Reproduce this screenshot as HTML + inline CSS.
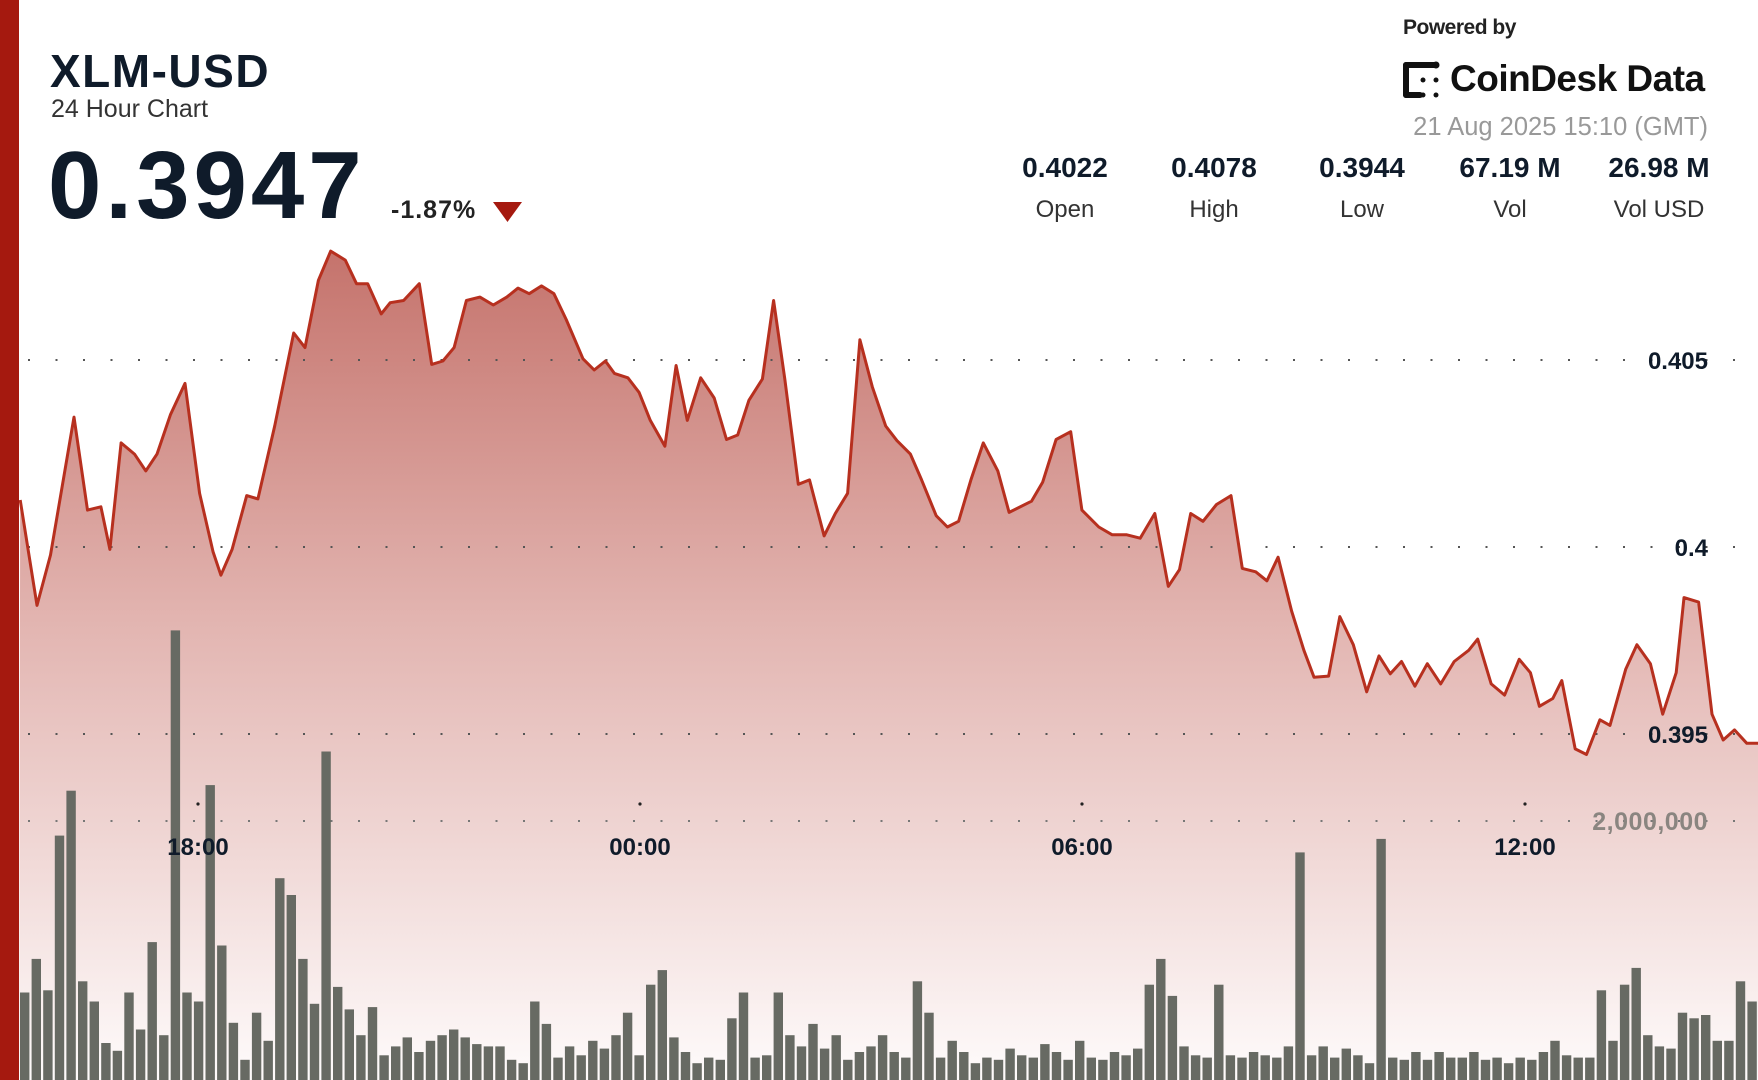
<!DOCTYPE html>
<html><head><meta charset="utf-8"><style>
html,body{margin:0;padding:0;background:#fff;}
body{width:1758px;height:1080px;position:relative;overflow:hidden;font-family:"Liberation Sans",sans-serif;color:#0f1b2a;}
.abs{position:absolute;white-space:nowrap;}
</style></head><body>
<svg class="abs" style="left:0;top:0" width="1758" height="1080" id="chart">
<defs>
<linearGradient id="g" x1="0" y1="240" x2="0" y2="1080" gradientUnits="userSpaceOnUse">
<stop offset="0" stop-color="#c4716a"/>
<stop offset="0.45" stop-color="#e2b4b0"/>
<stop offset="1" stop-color="#fefbfb"/>
</linearGradient>
</defs>
<path id="area" fill="url(#g)"/>
<g id="grid" stroke="#555" stroke-width="2" stroke-dasharray="2 25.5">
<line x1="28" y1="360" x2="1758" y2="360"/>
<line x1="28" y1="547" x2="1758" y2="547"/>
<line x1="28" y1="734" x2="1758" y2="734"/>
<line x1="28" y1="821" x2="1758" y2="821" stroke="#777"/>
</g>
<g id="bars" fill="#676a63"></g>
<path id="line" fill="none" stroke="#b7301f" stroke-width="3" stroke-linejoin="round"/>
<g fill="#222"><circle cx="198" cy="804" r="1.6"/><circle cx="640" cy="804" r="1.6"/><circle cx="1082" cy="804" r="1.6"/><circle cx="1525" cy="804" r="1.6"/></g>
<g font-family="Liberation Sans, sans-serif" font-weight="bold" font-size="24" fill="#0f1b2a" text-anchor="end">
<text x="1708" y="369">0.405</text>
<text x="1708" y="556">0.4</text>
<text x="1708" y="743">0.395</text>
<text x="1708" y="830" fill="#8a8580" font-size="25" letter-spacing="0.5">2,000,000</text>
</g>
<g font-family="Liberation Sans, sans-serif" font-weight="bold" font-size="24" fill="#0f1b2a" text-anchor="middle">
<text x="198" y="855">18:00</text>
<text x="640" y="855">00:00</text>
<text x="1082" y="855">06:00</text>
<text x="1525" y="855">12:00</text>
</g>
<rect x="0" y="0" width="19" height="1080" fill="#a5190f"/>
<polygon points="493,202 522,202 507.5,222" fill="#a5190f"/>
<g fill="#111">
<rect x="1403" y="62" width="6" height="36" rx="3"/>
<rect x="1403" y="62" width="35" height="6" rx="3"/>
<rect x="1403" y="92" width="20" height="6" rx="3"/>
<circle cx="1436" cy="65" r="3.5"/>
<circle cx="1423" cy="80" r="2.5"/><circle cx="1436" cy="80" r="2.5"/>
<circle cx="1423" cy="95" r="2.5"/><circle cx="1436" cy="95" r="2.5"/>
</g>
</svg>
<div class="abs" style="left:50px;top:44px;font-size:46px;font-weight:bold;letter-spacing:1.5px;">XLM-USD</div>
<div class="abs" style="left:51px;top:95px;font-size:25px;color:#333;">24 Hour Chart</div>
<div class="abs" style="left:48px;top:131px;font-size:96px;font-weight:bold;letter-spacing:4px;">0.3947</div>
<div class="abs" style="left:391px;top:196px;font-size:25px;font-weight:bold;color:#222;letter-spacing:1px;">-1.87%</div>
<div class="abs" style="left:1403px;top:16px;font-size:21px;font-weight:bold;color:#222;letter-spacing:-0.5px;">Powered by</div>
<div class="abs" style="left:1450px;top:58px;font-size:37px;font-weight:bold;color:#111;letter-spacing:-0.5px;">CoinDesk Data</div>
<div class="abs" style="right:50px;top:113px;font-size:25.5px;color:#999;">21 Aug 2025 15:10 (GMT)</div>
<div class="abs" style="left:0;top:152px;width:1758px;font-size:28px;font-weight:bold;">
<span class="abs" style="left:1015px;width:100px;text-align:center">0.4022</span>
<span class="abs" style="left:1164px;width:100px;text-align:center">0.4078</span>
<span class="abs" style="left:1312px;width:100px;text-align:center">0.3944</span>
<span class="abs" style="left:1450px;width:120px;text-align:center">67.19 M</span>
<span class="abs" style="left:1599px;width:120px;text-align:center">26.98 M</span>
</div>
<div class="abs" style="left:0;top:196px;width:1758px;font-size:24px;color:#333;">
<span class="abs" style="left:1015px;width:100px;text-align:center">Open</span>
<span class="abs" style="left:1164px;width:100px;text-align:center">High</span>
<span class="abs" style="left:1312px;width:100px;text-align:center">Low</span>
<span class="abs" style="left:1460px;width:100px;text-align:center">Vol</span>
<span class="abs" style="left:1599px;width:120px;text-align:center">Vol USD</span>
</div>
<script>
var s=1758/1568;
var P=[18,446,33,540,45,495,66,372,78,455,90,452,98,490,108,395,120,405,130,420,140,405,152,370,165,342,178,440,190,492,197,513,207,490,220,442,230,445,245,380,262,297,272,310,284,250,295,224,308,232,318,253,328,253,340,280,348,270,360,268,374,253,385,325,395,322,405,310,416,268,428,265,440,272,452,265,462,257,472,262,483,255,494,262,505,285,520,320,530,330,540,322,548,333,560,337,570,350,580,375,593,398,603,326,613,375,625,337,637,355,648,392,658,388,668,357,680,338,690,268,700,338,712,432,722,428,735,478,745,458,756,440,767,303,778,345,790,380,800,393,812,405,822,428,835,460,845,470,855,465,866,428,877,395,890,420,900,457,920,447,930,430,942,392,955,385,965,455,980,470,992,477,1005,477,1017,480,1030,458,1042,523,1052,508,1062,458,1073,465,1085,450,1098,442,1108,507,1120,510,1130,518,1140,497,1152,545,1163,580,1172,604,1185,603,1195,550,1207,575,1219,617,1230,585,1240,601,1250,590,1262,612,1273,592,1285,610,1297,590,1310,580,1318,570,1330,610,1342,620,1355,588,1365,600,1373,630,1385,623,1393,607,1405,668,1415,673,1427,642,1436,647,1450,597,1460,575,1472,592,1483,637,1495,600,1502,533,1515,537,1527,637,1537,660,1547,651,1558,663,1568,663];
var d="";for(var i=0;i<P.length;i+=2){d+=(i?"L":"M")+(P[i]*s).toFixed(1)+","+(P[i+1]*s).toFixed(1);}
document.getElementById("line").setAttribute("d",d);
document.getElementById("area").setAttribute("d",d+"L1758,1080L19,1080Z");
var H=[78,108,80,218,258,88,70,33,26,78,45,123,40,401,78,70,263,120,51,18,60,35,180,165,108,68,293,83,63,40,
65,22,30,38,25,35,40,45,38,32,30,30,18,15,70,50,20,30,22,35,
28,40,60,22,85,98,38,25,15,20,
18,55,78,20,22,78,40,30,50,28,40,18,25,30,40,25,20,88,60,20,
35,25,15,20,18,28,22,20,32,25,18,35,20,18,25,22,28,85,108,75,
30,22,20,85,22,20,25,22,20,30,203,22,30,20,28,22,15,215,20,18,
25,18,25,20,20,25,18,20,15,20,18,25,35,22,20,20,80,35,85,100,
40,30,28,60,55,58,35,35,88,70];
var g=document.getElementById("bars"),pitch=1739/H.length,out="";
for(var j=0;j<H.length;j++){var h=H[j]*s,x=19+j*pitch+1;out+='<rect x="'+x.toFixed(1)+'" y="'+(1080-h).toFixed(1)+'" width="'+(pitch-2.2).toFixed(1)+'" height="'+h.toFixed(1)+'"/>';}
g.innerHTML=out;
</script>
</body></html>
